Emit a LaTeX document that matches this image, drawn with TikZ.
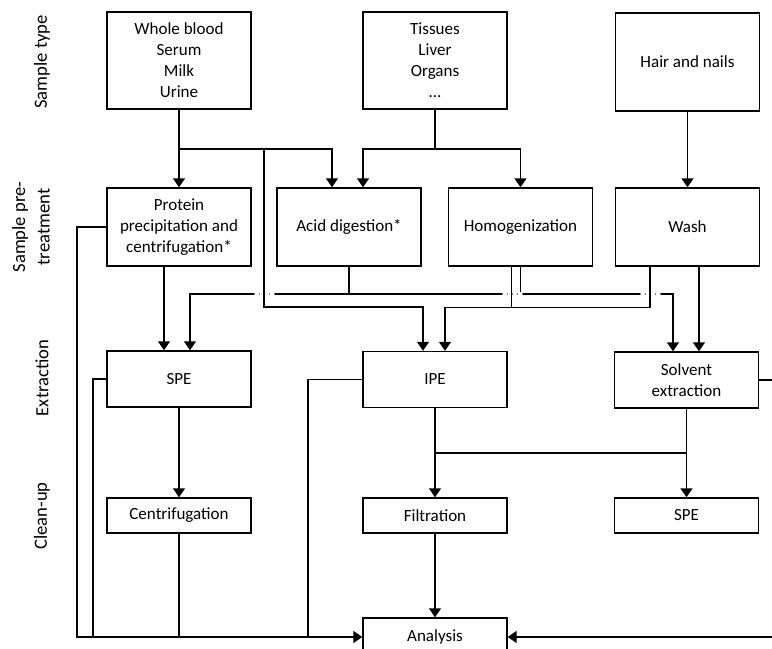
\documentclass[tikz,border=0pt]{standalone}
\usepackage{fontspec}
\setmainfont{Carlito}
\usetikzlibrary{arrows.meta}

\begin{document}
\begin{tikzpicture}[x=0.02cm, y=-0.02cm,
  box/.style={draw, line width=0.8pt, minimum width=2.88cm, align=center, inner sep=2pt, font=\fontsize{9.7}{11.9}\selectfont},
  arr/.style={line width=0.8pt, -{Triangle[width=0.24cm,length=0.18cm]}},
  ln/.style={line width=0.8pt},
  stage/.style={rotate=90, align=center, font=\fontsize{10.6}{14}\selectfont}]
\useasboundingbox (0,0) rectangle (772,649);
% rows and columns for the bends
\coordinate (r1) at (0,149);
\coordinate (r2) at (0,294);
\coordinate (r3) at (0,307);
\coordinate (r4) at (0,453);
\coordinate (r5) at (0,637);
\coordinate (c1) at (77,0);
\coordinate (c2) at (93,0);
\coordinate (c3) at (308,0);
\coordinate (c4) at (790,0);
% stage labels
\node[stage] (lab1) at (42,62) {Sample type};
\node[stage] (lab2) at (31,227) {Sample pre-\\treatment};
\node[stage] (lab3) at (42,378) {Extraction};
\node[stage] (lab4) at (42,516) {Clean-up};
% sample types
\node[box, minimum height=1.94cm] (whole) at (179,60.5) {Whole blood\\Serum\\Milk\\Urine};
\node[box, minimum height=1.94cm] (tissue) at (435,60.5) {Tissues\\Liver\\Organs\\\dots};
\node[box, minimum height=1.96cm] (hair) at (687.5,62) {Hair and nails};
% pre-treatment
\node[box, minimum height=1.56cm] (protein) at (179,227) {Protein\\precipitation and\\centrifugation*};
\node[box, minimum height=1.56cm] (acid) at (349,227) {Acid digestion*};
\node[box, minimum height=1.56cm] (homog) at (520.5,227) {Homogenization};
\node[box, minimum height=1.56cm] (wash) at (687.5,227) {Wash};
% extraction
\node[box, minimum height=1.12cm] (spe1) at (179,379) {SPE};
\node[box, minimum height=1.12cm] (ipe) at (435,379.5) {IPE};
\node[box, minimum height=1.12cm] (solv) at (686.5,380) {Solvent\\extraction};
% clean-up
\node[box, minimum height=0.7cm] (centr) at (179,515.5) {Centrifugation};
\node[box, minimum height=0.7cm] (filt) at (435,515.5) {Filtration};
\node[box, minimum height=0.7cm] (spe2) at (686.5,515.5) {SPE};
% analysis
\node[box, minimum height=0.76cm] (analysis) at (435,637) {Analysis};

% from the samples
\draw[arr] (whole.south) -- (protein.north);
\draw[arr] (whole.south |- r1) -| ([xshift=-0.34cm]acid.north);
\draw[arr] (tissue.south) -- (tissue.south |- r1) -| ([xshift=0.28cm]acid.north);
\draw[arr] (tissue.south |- r1) -| (homog.north);
\draw[arr] (hair.south) -- (wash.south |- wash.north);
% to the extraction
\draw[arr] ([xshift=-0.3cm]protein.south) -- ([xshift=-0.3cm]spe1.north);
\draw[arr] (acid.south) -- (acid.south |- r2) -| ([xshift=0.22cm]spe1.north);
\draw[arr] (acid.south |- r2) -| ([xshift=-0.27cm]solv.north);
\draw[ln] (homog.south) -- (homog.south |- r2);
\draw[arr] ([xshift=0.23cm]wash.south) -- ([xshift=0.25cm]solv.north);
% bridges where lines cross
\foreach \bx in {264,512,650}{
  \draw[white, line width=2.5pt] (\bx-10,294) -- (\bx+10,294);
  \draw[gray, dotted, line width=0.8pt] (\bx-10,294) -- (\bx+10,294);
}
\draw[arr] (whole.south |- r1) -- (264,149) -- (264,307) -| ([xshift=-0.24cm]ipe.north);
\draw[ln] ([xshift=-0.18cm]homog.south) -- ++(0,41);
\draw[arr] ([xshift=-0.75cm]wash.south) -- ++(0,41) -| ([xshift=0.2cm]ipe.north);
% clean-up
\draw[arr] (spe1.south) -- (centr.north);
\draw[arr] (ipe.south) -- (filt.north);
\draw[arr] (solv.south) -- (spe2.north);
\draw[ln] (ipe.south |- r4) -- (solv.south |- r4);
% to the analysis
\draw[arr] (protein.west) -- (protein.west -| c1) |- (analysis.west);
\draw[ln] (spe1.west) -- (spe1.west -| c2) -- (c2 |- r5);
\draw[ln] (ipe.west) -- (ipe.west -| c3) -- (c3 |- r5);
\draw[ln] (centr.south) -- (centr.south |- r5);
\draw[arr] (filt.south) -- (analysis.north);
\draw[arr] (solv.east) -- (solv.east -| c4) |- (analysis.east);
\end{tikzpicture}
\end{document}
